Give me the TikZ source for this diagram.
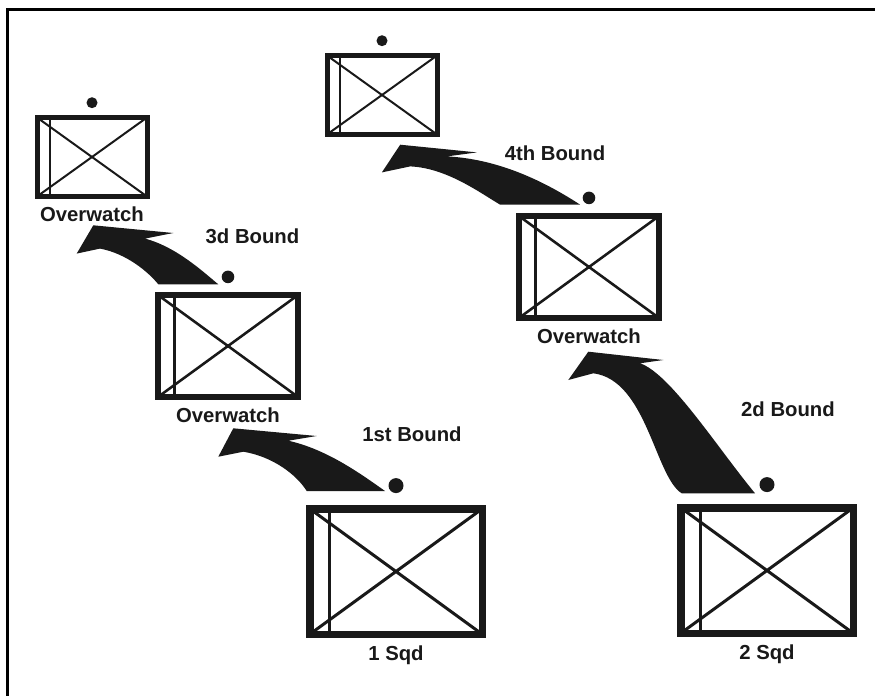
\documentclass[tikz,border=0pt]{standalone}
\usepackage{fontspec}
\setmainfont{Liberation Sans}
\usetikzlibrary{positioning, calc}

\tikzset{
    unit/.style n args={3}{draw=black!90, rectangle, inner sep=0pt, minimum width=#1, minimum height=#2, line width=#3,
        path picture={
            \draw[black!90, line width=0.4*#3] (path picture bounding box.south west) -- (path picture bounding box.north east)
                (path picture bounding box.north west) -- (path picture bounding box.south east);
            \draw[black!90, line width=0.4*#3] ($(path picture bounding box.south west)!0.117!(path picture bounding box.south east)$)
                -- ($(path picture bounding box.north west)!0.117!(path picture bounding box.north east)$);
        }},
    bigunit/.style={unit={86.25pt}{62.75pt}{3.75pt}},
    midunit/.style={unit={69.8pt}{50.8pt}{3.2pt}},
    smallunit/.style={unit={55pt}{39.5pt}{2.5pt}},
    dot/.style={circle, fill=black!90, inner sep=0pt, minimum size=#1},
    lbl/.style={font=\bfseries\fontsize{10.15}{12}\selectfont, text=black!90, inner sep=0pt},
    bound/.style={fill=black!90}
}

\begin{document}
\begin{tikzpicture}[x=0.5pt, y=-0.5pt]
    \useasboundingbox (0,0) rectangle (875,696);
    \draw[line width=1.5pt] (7.5,696) -- (7.5,9.5) -- (875,9.5);

    % squads and overwatch positions
    \node[bigunit] (sqd1) at (396,571.5) {};
    \node[bigunit] (sqd2) at (767,570.5) {};
    \node[midunit] (ow1) at (228,346) {};
    \node[midunit] (ow2) at (589,267) {};
    \node[smallunit] (ow3) at (92,157) {};
    \node[smallunit] (ow4) at (382,95) {};

    \node[dot=7.5pt, above=5.75pt of sqd1] (d1) {};
    \node[dot=7.5pt, above=5.75pt of sqd2] (d2) {};
    \node[dot=6.3pt, above=4.2pt of ow1] (d3) {};
    \node[dot=6.3pt, above=4.2pt of ow2] (d4) {};
    \node[dot=5.5pt, above=3.2pt of ow3] (d5) {};
    \node[dot=5.5pt, above=3.2pt of ow4] (d6) {};

    \node[lbl, anchor=base, yshift=-11pt] (l1) at (sqd1.south) {1 Sqd};
    \node[lbl, anchor=base, yshift=-11pt] (l2) at (sqd2.south) {2 Sqd};
    \node[lbl, anchor=base, yshift=-11.2pt] (l3) at (ow1.south) {Overwatch};
    \node[lbl, anchor=base, yshift=-11.2pt] (l4) at (ow2.south) {Overwatch};
    \node[lbl, anchor=base, yshift=-11pt] (l5) at (ow3.south) {Overwatch};

    \node[lbl, anchor=base] (b1) at (412,441.5) {1st Bound};
    \node[lbl, anchor=base] (b2) at (788,416) {2d Bound};
    \node[lbl, anchor=base] (b3) at (252.5,243) {3d Bound};
    \node[lbl, anchor=base] (b4) at (555,161) {4th Bound};

    % bound arrows
    \begin{scope}[shift={(sqd1.north)}]
        \fill[bound] (-11,-14) .. controls (-36,-31.7) and (-69.3,-55.7) .. (-107.7,-64.3)
            -- (-79.3,-69) -- (-162.7,-76.7) -- (-177.7,-48.3) -- (-152.7,-53.3)
            .. controls (-122.7,-48.3) and (-99.3,-30) .. (-89.3,-14) -- cycle;
    \end{scope}
    \begin{scope}[shift={(sqd2.north)}]
        \fill[bound] (-12,-10.7) .. controls (-50.3,-57.3) and (-97,-130.7) .. (-127,-140.7)
            -- (-103.7,-144) -- (-178.7,-152.3) -- (-198.7,-124) -- (-173.7,-130.7)
            .. controls (-120.3,-124) and (-112,-27.3) .. (-85.3,-10.7) -- cycle;
    \end{scope}
    \begin{scope}[shift={(ow1.north)}]
        \fill[bound] (-9.7,-7.7) .. controls (-24.7,-20) and (-51.3,-45) .. (-83,-53.4)
            -- (-54.7,-59) -- (-134.7,-66.7) -- (-151.3,-38.4) -- (-128,-43.4)
            .. controls (-101.3,-38.4) and (-79.7,-20) .. (-69.7,-7.7) -- cycle;
    \end{scope}
    \begin{scope}[shift={(ow2.north)}]
        \fill[bound] (-8.8,-8.3) .. controls (-42.1,-30) and (-88.8,-54) .. (-142.1,-56.6)
            -- (-112.1,-60.6) -- (-188.8,-68.3) -- (-207.1,-40.6) -- (-178.8,-46.6)
            .. controls (-142.1,-45) and (-108.8,-20) .. (-88.8,-8.3) -- cycle;
    \end{scope}
\end{tikzpicture}
\end{document}
